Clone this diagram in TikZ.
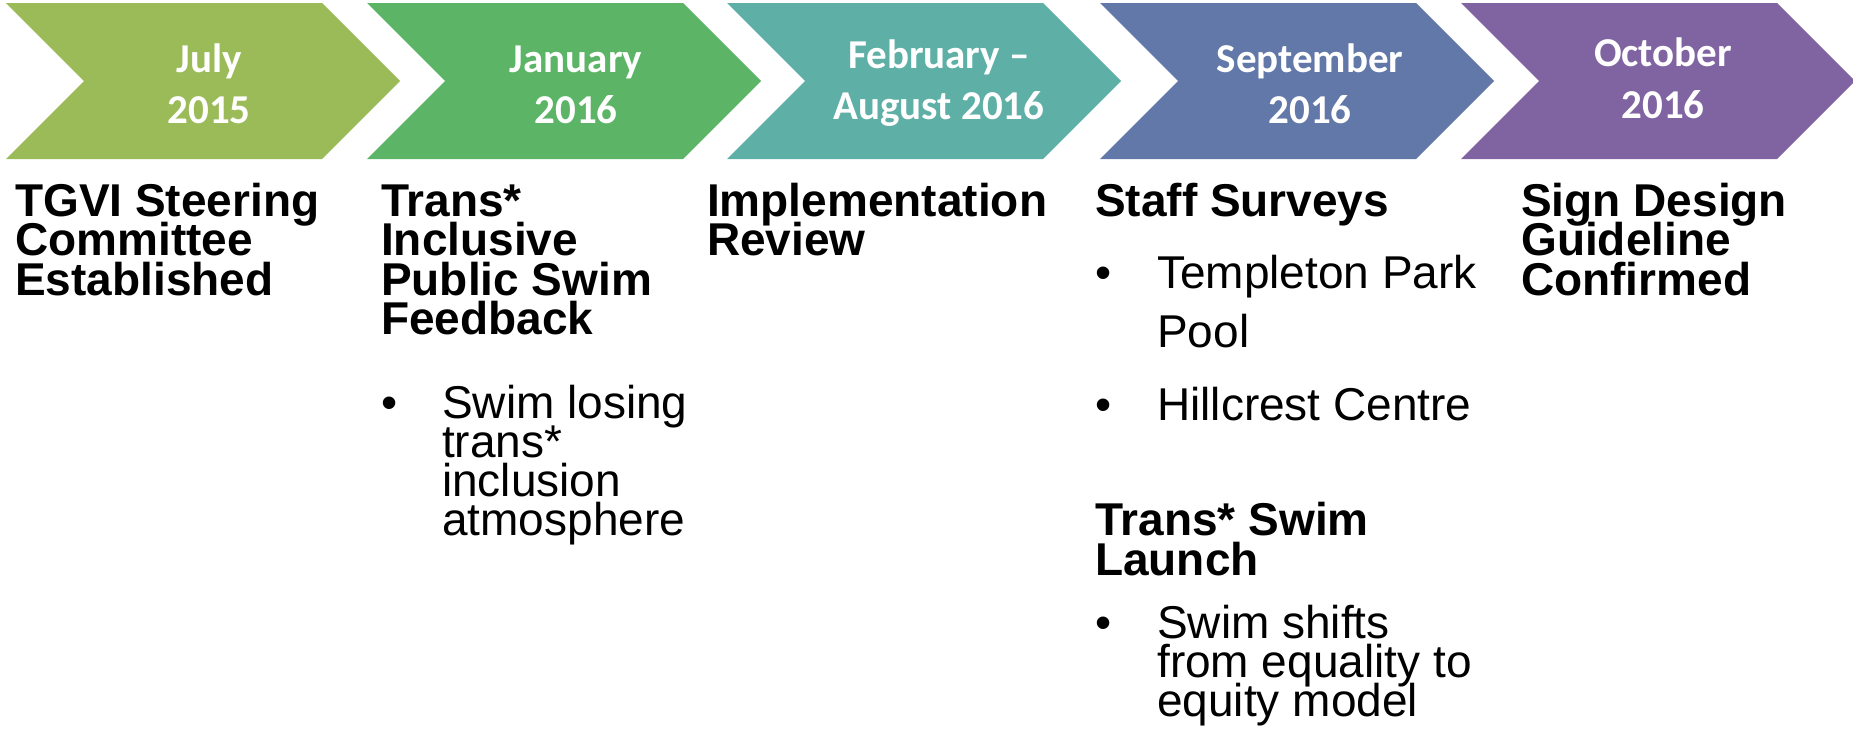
\documentclass[tikz,border=0pt]{standalone}
\usepackage{fontspec}
\setmainfont{Liberation Sans}
\newfontfamily\datefam{Carlito}
\definecolor{cA}{HTML}{9BBB59}
\definecolor{cB}{HTML}{5CB466}
\definecolor{cC}{HTML}{5EAFA6}
\definecolor{cD}{HTML}{6178A8}
\definecolor{cE}{HTML}{8064A2}
\tikzset{
  datetxt/.style={anchor=base, inner sep=0pt, text=white, font=\datefam\bfseries\fontsize{41}{50}\selectfont},
  headtxt/.style={anchor=base west, inner sep=0pt, font=\bfseries\fontsize{46}{38.5}\selectfont},
  bodytxt/.style={anchor=base west, inner sep=0pt, font=\fontsize{46}{38.5}\selectfont},
}
\begin{document}
\begin{tikzpicture}[x=1pt,y=-1pt]
\useasboundingbox (0,0) rectangle (1853,731);
% chevrons
\foreach \L/\c in {6/cA,367/cB,727/cC,1100/cD,1461/cE}{
  \fill[\c] (\L,3) -- ++(316,0) -- ++(78,78) -- ++(-78,78) -- ++(-316,0) -- ++(78,-78) -- cycle;
}
% dates
\node[datetxt] (d1a) at (209,72) {July};
\node[datetxt] (d1b) at (209,123) {2015};
\node[datetxt] (d2a) at (576,72) {January};
\node[datetxt] (d2b) at (576,123) {2016};
\node[datetxt] (d3a) at (939,68) {February –};
\node[datetxt] (d3b) at (939,119) {August 2016};
\node[datetxt] (d4a) at (1310,72) {September};
\node[datetxt] (d4b) at (1310,123) {2016};
\node[datetxt] (d5a) at (1663,66) {October};
\node[datetxt] (d5b) at (1663,118) {2016};
% column 1
\node[headtxt] (h1a) at (15,216) {TGVI Steering};
\node[headtxt] (h1b) at (15,255.5) {Committee};
\node[headtxt] (h1c) at (15,295) {Established};
% column 2
\node[headtxt] (h2a) at (381,216) {Trans*};
\node[headtxt] (h2b) at (381,255.5) {Inclusive};
\node[headtxt] (h2c) at (381,295) {Public Swim};
\node[headtxt] (h2d) at (381,334.5) {Feedback};
\node[bodytxt] (u2) at (381,418) {•};
\node[bodytxt] (t2a) at (442,418) {Swim losing};
\node[bodytxt] (t2b) at (442,457) {trans*};
\node[bodytxt] (t2c) at (442,496) {inclusion};
\node[bodytxt] (t2d) at (442,535) {atmosphere};
% column 3
\node[headtxt] (h3a) at (707,216) {Implementation};
\node[headtxt] (h3b) at (707,255.5) {Review};
% column 4
\node[headtxt] (h4a) at (1095,216) {Staff Surveys};
\node[bodytxt] (u4a) at (1095,288) {•};
\node[bodytxt] (t4a) at (1157,288) {Templeton Park};
\node[bodytxt] (t4b) at (1157,347) {Pool};
\node[bodytxt] (u4b) at (1095,420) {•};
\node[bodytxt] (t4c) at (1157,420) {Hillcrest Centre};
\node[headtxt] (h4b) at (1095,535) {Trans* Swim};
\node[headtxt] (h4c) at (1095,575) {Launch};
\node[bodytxt] (u4c) at (1095,638) {•};
\node[bodytxt] (t4d) at (1157,638) {Swim shifts};
\node[bodytxt] (t4e) at (1157,677) {from equality to};
\node[bodytxt] (t4f) at (1157,716) {equity model};
% column 5
\node[headtxt] (h5a) at (1521,216) {Sign Design};
\node[headtxt] (h5b) at (1521,255.5) {Guideline};
\node[headtxt] (h5c) at (1521,295) {Confirmed};
\end{tikzpicture}
\end{document}
